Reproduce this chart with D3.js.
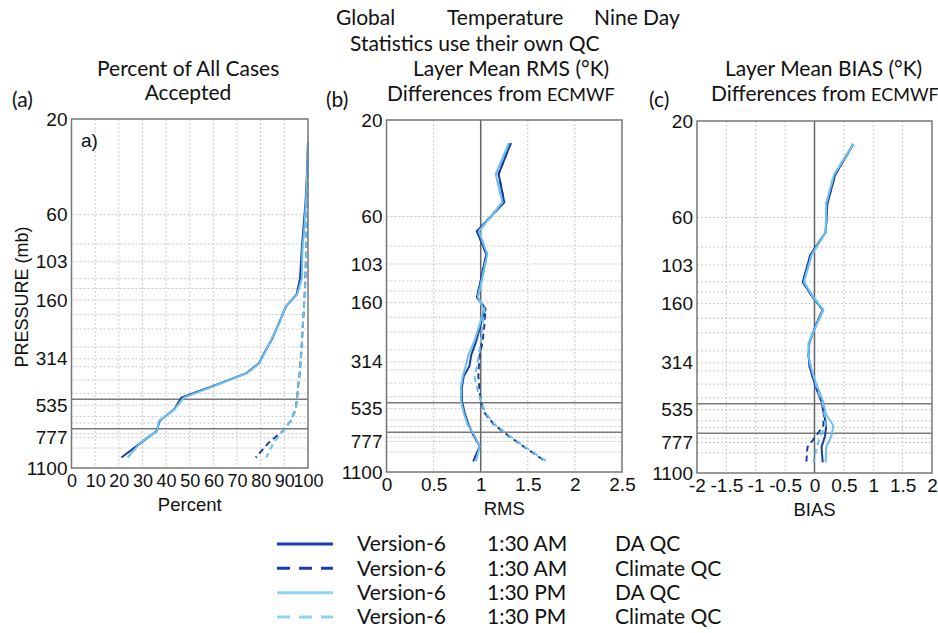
<!DOCTYPE html>
<html>
<head>
<meta charset="utf-8">
<script src="https://cdn.jsdelivr.net/npm/d3@7"></script>
<style>
  body { margin: 0; background: #fff; }
  svg { display: block; }
  .ttl { font-family: Lato, "Open Sans", sans-serif; font-size: 21px; fill: #111; }
  .tick text { font-family: "Liberation Sans", Arial, sans-serif; font-size: 19px; fill: #111; }
  .narrow .tick text { font-family: "Liberation Sans Narrow", "Arial Narrow", sans-serif; font-size: 18px; }
  .lab { font-family: "Liberation Sans", Arial, sans-serif; font-size: 18.5px; fill: #111; }
</style>
</head>
<body>
<div id="chart"></div>
<script>
// pressure levels (mb) the layer means are plotted at
const levels = [26, 37, 51, 71, 92, 125, 150, 172, 205, 250, 290, 330, 370, 420, 490, 560, 640, 720, 820, 975];

// (a) percent of all cases accepted
const pctAmDa   = [100, 99.6, 99, 98, 97.3, 96.6, 95.2, 90.7, 88, 84.8, 81.7, 79.3, 74, 62, 46.5, 43.4, 37.3, 36, 29.6, 21.1];
const pctAmClim = [100, 99.9, 99.7, 99.4, 99.2, 98.9, 98.6, 98.3, 97.9, 97.5, 97.2, 96.8, 96.5, 95.9, 95.4, 94.8, 92.7, 89.4, 83.5, 77.9];
const pctPmDa   = [100, 99.7, 99.2, 98.4, 97.6, 97.4, 95.4, 90.5, 88.2, 84.6, 81.9, 79.5, 74.2, 62.4, 47.5, 43.6, 37, 36.2, 29.3, 23.7];
const pctPmClim = [100, 99.9, 99.7, 99.4, 99.2, 98.9, 98.6, 98.3, 97.9, 97.5, 97.2, 96.8, 96.5, 95.9, 95.4, 94.8, 92.7, 89.4, 85.5, 82.4];

// (b) layer mean RMS differences from ECMWF
const rmsAmDa   = [1.32, 1.19, 1.25, 0.96, 1.06, 1.0, 0.96, 1.05, 1.0, 0.95, 0.9, 0.88, 0.82, 0.8, 0.8, 0.83, 0.87, 0.92, 0.99, 0.92];
const rmsAmClim = [1.32, 1.19, 1.25, 0.96, 1.06, 1.0, 0.96, 1.05, 1.04, 1.02, 0.99, 0.98, 0.975, 0.985, 1.0, 1.04, 1.14, 1.28, 1.45, 1.69];
const rmsPmDa   = [1.3, 1.16, 1.23, 0.98, 1.07, 1.01, 0.97, 1.03, 0.99, 0.93, 0.87, 0.84, 0.81, 0.79, 0.79, 0.82, 0.86, 0.93, 0.99, 0.95];
const rmsPmClim = [1.3, 1.16, 1.23, 0.98, 1.07, 1.01, 0.97, 1.04, 1.02, 1.0, 0.98, 0.96, 0.935, 0.96, 1.0, 1.05, 1.15, 1.29, 1.46, 1.7];

// (c) layer mean BIAS differences from ECMWF
const biasAmDa   = [0.66, 0.35, 0.22, 0.19, -0.07, -0.2, -0.02, 0.14, 0.02, -0.09, -0.1, -0.08, -0.03, 0.03, 0.12, 0.16, 0.2, 0.18, 0.12, 0.14];
const biasAmClim = [0.66, 0.35, 0.22, 0.19, -0.07, -0.2, -0.02, 0.14, 0.02, -0.09, -0.1, -0.08, -0.03, 0.05, 0.14, 0.16, 0.15, 0.03, -0.12, -0.14];
const biasPmDa   = [0.66, 0.33, 0.2, 0.19, -0.05, -0.18, -0.01, 0.15, 0.03, -0.1, -0.1, -0.06, -0.01, 0.06, 0.15, 0.19, 0.32, 0.29, 0.2, 0.19];
const biasPmClim = [0.66, 0.33, 0.2, 0.19, -0.05, -0.18, -0.01, 0.15, 0.03, -0.1, -0.1, -0.06, -0.01, 0.04, 0.13, 0.17, 0.19, 0.1, 0.04, -0.02];

// axis ticks and grid
const pressureTicks = [20, 60, 103, 160, 314, 535, 777, 1100];
const gridLevels = [60, 84, 103, 125, 140, 160, 189, 223, 274, 314, 344, 400, 467, 535, 608, 656, 740, 777, 875];
const refLevels = [500, 700];
const pctTicks = [0, 10, 20, 30, 40, 50, 60, 70, 80, 90, 100];
const rmsTicks = [0, 0.5, 1, 1.5, 2, 2.5];
const biasTicks = [-2, -1.5, -1, -0.5, 0, 0.5, 1, 1.5, 2];

const seriesNames = ["Version-6", "Version-6", "Version-6", "Version-6"];
const seriesTimes = ["1:30 AM", "1:30 AM", "1:30 PM", "1:30 PM"];
const seriesQc = ["DA QC", "Climate QC", "DA QC", "Climate QC"];

const dark = "#1c3d9c", light = "#6cc0f0";
const styles = [
  { color: dark, dash: null },
  { color: dark, dash: "6,4" },
  { color: light, dash: null },
  { color: light, dash: "6,4" }
];

const svg = d3.select("#chart").append("svg")
  .attr("width", 938).attr("height", 633);

const panels = [
  { x0: 71.5, x1: 308, y0: 119, y1: 468, domain: [0, 100], ticks: pctTicks, ref: null,
    series: [pctAmDa, pctAmClim, pctPmDa, pctPmClim], label: "Percent", narrow: true },
  { x0: 386.5, x1: 622, y0: 120, y1: 472, domain: [0, 2.5], ticks: rmsTicks, ref: 1,
    series: [rmsAmDa, rmsAmClim, rmsPmDa, rmsPmClim], label: "RMS" },
  { x0: 697, x1: 932, y0: 121, y1: 473, domain: [-2, 2], ticks: biasTicks, ref: 0,
    series: [biasAmDa, biasAmClim, biasPmDa, biasPmClim], label: "BIAS" }
];

panels.forEach(p => {
  const x = d3.scaleLinear().domain(p.domain).range([p.x0, p.x1]);
  const y = d3.scaleLog().domain([20, 1100]).range([p.y0, p.y1]);
  const g = svg.append("g");

  // vertical dotted grid
  g.selectAll(".vg").data(p.ticks.slice(1, -1)).enter().append("line")
    .attr("x1", d => x(d)).attr("x2", d => x(d))
    .attr("y1", p.y0).attr("y2", p.y1)
    .attr("stroke", "#c8c8c8").attr("stroke-width", 1).attr("stroke-dasharray", "2,2");

  // horizontal dotted grid
  g.selectAll(".hg").data(gridLevels).enter().append("line")
    .attr("x1", p.x0).attr("x2", p.x1)
    .attr("y1", d => y(d)).attr("y2", d => y(d))
    .attr("stroke", "#c8c8c8").attr("stroke-width", 1).attr("stroke-dasharray", "2,2");

  // solid reference lines
  g.selectAll(".rl").data(refLevels).enter().append("line")
    .attr("x1", p.x0).attr("x2", p.x1)
    .attr("y1", d => y(d)).attr("y2", d => y(d))
    .attr("stroke", "#7a7a7a").attr("stroke-width", 1.5);
  if (p.ref !== null) {
    g.append("line")
      .attr("x1", x(p.ref)).attr("x2", x(p.ref))
      .attr("y1", p.y0).attr("y2", p.y1)
      .attr("stroke", "#666").attr("stroke-width", 1.5);
  }

  // curves
  const line = d3.line().x(d => x(d[0])).y(d => y(d[1]));
  p.series.forEach((vals, si) => {
    g.append("path")
      .datum(vals.map((v, i) => [v, levels[i]]))
      .attr("d", line)
      .attr("fill", "none")
      .attr("stroke", styles[si].color)
      .attr("stroke-width", 2)
      .attr("stroke-dasharray", styles[si].dash);
  });

  // frame
  g.append("rect")
    .attr("x", p.x0).attr("y", p.y0)
    .attr("width", p.x1 - p.x0).attr("height", p.y1 - p.y0)
    .attr("fill", "none").attr("stroke", "#777").attr("stroke-width", 1.5);

  // axes (labels only)
  const ya = g.append("g")
    .attr("transform", `translate(${p.x0},0)`)
    .call(d3.axisLeft(y).tickValues(pressureTicks).tickFormat(d3.format("d")).tickSize(0).tickPadding(4));
  ya.select(".domain").remove();

  const xa = g.append("g")
    .attr("class", p.narrow ? "narrow" : null)
    .attr("transform", `translate(0,${p.y1})`)
    .call(d3.axisBottom(x).tickValues(p.ticks).tickFormat(d => String(d)).tickSize(0).tickPadding(6));
  xa.select(".domain").remove();

  g.append("text").attr("class", "lab")
    .attr("x", (p.x0 + p.x1) / 2).attr("y", p.y1 + 43)
    .attr("text-anchor", "middle").text(p.label);
});

// panel a inner tag and y label
svg.append("text").attr("class", "lab").attr("x", 81).attr("y", 147)
  .style("font-size", "19px").text("a)");
svg.append("text").attr("class", "lab")
  .attr("transform", "translate(28,297) rotate(-90)")
  .attr("text-anchor", "middle").style("font-size", "18px").text("PRESSURE (mb)");

// titles
const titles = [
  ["Global", 336, 25], ["Temperature", 447, 25], ["Nine Day", 594, 25],
  ["Statistics use their own QC", 350, 51],
  ["Percent of All Cases", 97, 76], ["Layer Mean RMS (°K)", 413, 76], ["Layer Mean BIAS (°K)", 725, 76],
  ["(a)", 12, 107], ["(b)", 326, 107], ["(c)", 649, 107]
];
titles.forEach(t => {
  svg.append("text").attr("class", "ttl").attr("x", t[1]).attr("y", t[2]).text(t[0]);
});
svg.append("text").attr("class", "ttl").attr("x", 188).attr("y", 100)
  .attr("text-anchor", "middle").text("Accepted");
[387, 711].forEach(x0 => {
  const t = svg.append("text").attr("class", "ttl").attr("x", x0).attr("y", 101);
  t.append("tspan").text("Differences from ");
  t.append("tspan").style("font-size", "18px").text("ECMWF");
});

// legend
const legendRows = d3.range(4);
const ly = d3.scalePoint().domain(legendRows).range([544, 617]);
const lg = svg.append("g");
legendRows.forEach(i => {
  lg.append("line")
    .attr("x1", 277).attr("x2", 333).attr("y1", ly(i)).attr("y2", ly(i))
    .attr("stroke", i < 2 ? "#1a3fb5" : "#8fd3f7").attr("stroke-width", 3)
    .attr("stroke-dasharray", styles[i].dash ? "13,9" : null);
  [[seriesNames[i], 357], [seriesTimes[i], 487], [seriesQc[i], 615]].forEach(c => {
    lg.append("text").attr("class", "ttl").attr("x", c[1]).attr("y", ly(i))
      .attr("dy", "0.35em").text(c[0]);
  });
});
</script>
</body>
</html>
